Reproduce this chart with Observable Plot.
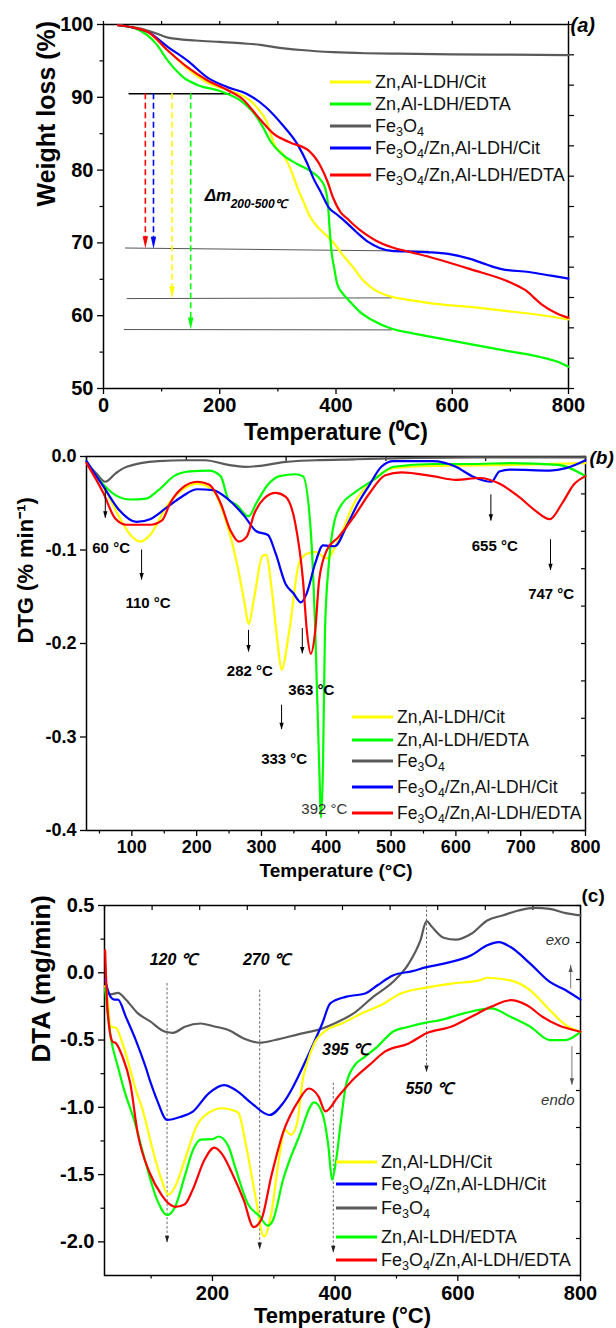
<!DOCTYPE html>
<html><head><meta charset="utf-8">
<script src="https://cdn.jsdelivr.net/npm/d3@7"></script>
<script src="https://cdn.jsdelivr.net/npm/@observablehq/plot@0.6"></script>
<style>
body{margin:0;background:#fff;}
#wrap{position:relative;width:616px;height:1328px;font-family:"Liberation Sans",Arial,sans-serif;overflow:hidden;}
.panel{position:absolute;left:0;}
.panel svg{overflow:visible;}
.row{position:absolute;white-space:nowrap;display:flex;align-items:center;transform:translateY(-50%);color:#111;}
.sw{display:inline-block;width:41px;height:3px;margin-right:4px;}
sub{font-size:0.7em;vertical-align:-0.35em;line-height:0;}
</style></head><body>
<div id="wrap"></div>
<script>
// ---------------- (a) TGA : [T (°C), weight (%)] ----------------
const tgaFe = [[25,99.9],[60,99.5],[90,98.8],[111,98.2],[159,97.8],[200,97.6],[240,97.4],[270,97.2],[294,96.9],[340,96.5],[395,96.2],[450,96.05],[496,96.0],[600,95.9],[700,95.85],[800,95.8]];
const tgaCit = [[25,99.9],[50,99.6],[78,98.9],[111,96.4],[145,93.9],[179,92.0],[213,91.0],[240,90.2],[253,89.5],[268,88.2],[280,86.8],[294,83.5],[310,82.0],[321,80.3],[334,77.5],[345,75.5],[354,73.8],[365,72.5],[380,71.3],[395,70.1],[410,68.5],[429,66.7],[445,65.0],[462,63.8],[480,63.0],[496,62.6],[530,62.1],[564,61.7],[631,61.2],[699,60.6],[750,60.1],[800,59.5]];
const tgaEdta = [[25,99.9],[57,99.4],[91,97.3],[111,95.0],[138,92.7],[165,91.6],[199,90.9],[240,89.3],[260,87.7],[275,85.8],[287,84.0],[307,82.2],[334,80.8],[361,79.6],[375,78.5],[381,77.6],[386,75.5],[389,72.0],[392,69.0],[397,66.5],[402,64.4],[412,63.0],[422,62.1],[440,60.6],[462,59.4],[496,58.2],[530,57.6],[564,57.1],[631,56.1],[699,55.1],[753,54.3],[780,53.7],[800,53.0]];
const tgaFeCit = [[25,99.9],[50,99.6],[78,98.9],[111,96.9],[145,95.0],[179,92.7],[213,91.4],[246,90.5],[280,88.6],[307,86.3],[334,83.5],[350,81.0],[361,78.9],[375,76.8],[388,74.8],[400,74.0],[415,73.0],[435,71.5],[456,70.1],[475,69.3],[496,68.9],[530,68.8],[564,68.7],[600,68.4],[631,67.8],[660,67.0],[685,66.4],[732,66.0],[770,65.5],[800,65.1]];
const tgaFeEdta = [[25,99.9],[50,99.6],[78,98.9],[111,96.4],[145,94.1],[179,92.3],[213,91.0],[240,89.7],[267,87.2],[294,84.9],[321,83.8],[354,82.6],[375,80.3],[385,78.5],[395,76.2],[408,74.2],[420,73.3],[429,72.6],[449,71.3],[469,70.3],[496,69.4],[530,68.7],[564,68.0],[631,66.4],[699,64.6],[726,63.5],[753,61.6],[780,60.3],[800,59.7]];
const tgaStart = [{T1:44, T2:219, w:90.5}];
const tgaLevels = [{T1:37,w1:69.3,T2:560,w2:68.85},{T1:40,w1:62.35,T2:496,w2:62.45},{T1:35,w1:58.1,T2:496,w2:58.05}];
const tgaDrops = [{key:"feEdta",T:72,w1:90.5,w2:69.25},{key:"feCit",T:86,w1:90.5,w2:69.2},{key:"cit",T:118,w1:90.5,w2:62.4},{key:"edta",T:150,w1:90.5,w2:58.1}];
const tgaDeltaLabel = [{T:174, w:75.8}];

// ---------------- (b) DTG : [T (°C), % min-1] ----------------
const dtgFe = [[30,-0.007],[45,-0.018],[59,-0.027],[75,-0.018],[92,-0.011],[141,-0.005],[183,-0.004],[213,-0.004],[249,-0.009],[274,-0.011],[298,-0.010],[334,-0.006],[383,-0.004],[443,-0.003],[504,-0.002],[625,-0.001],[800,-0.001]];
const dtgCit = [[30,-0.007],[56,-0.032],[80,-0.064],[98,-0.084],[113,-0.091],[128,-0.084],[153,-0.054],[177,-0.036],[201,-0.029],[225,-0.036],[243,-0.064],[262,-0.114],[274,-0.157],[280,-0.179],[289,-0.150],[301,-0.107],[307,-0.105],[316,-0.143],[325,-0.200],[331,-0.228],[343,-0.186],[358,-0.114],[370,-0.104],[383,-0.102],[401,-0.109],[419,-0.089],[443,-0.050],[473,-0.025],[504,-0.0125],[564,-0.010],[685,-0.009],[800,-0.007]];
const dtgEdta = [[30,-0.005],[50,-0.025],[74,-0.041],[98,-0.046],[122,-0.045],[141,-0.036],[165,-0.021],[189,-0.016],[219,-0.015],[237,-0.021],[249,-0.046],[262,-0.052],[280,-0.064],[292,-0.050],[310,-0.030],[328,-0.021],[352,-0.019],[364,-0.021],[376,-0.079],[383,-0.186],[389,-0.329],[392,-0.386],[395,-0.329],[398,-0.186],[404,-0.114],[413,-0.068],[425,-0.050],[443,-0.039],[473,-0.025],[504,-0.011],[564,-0.008],[625,-0.008],[685,-0.007],[758,-0.009],[800,-0.021]];
const dtgFeCit = [[30,-0.005],[56,-0.032],[80,-0.057],[107,-0.070],[128,-0.067],[153,-0.055],[177,-0.043],[201,-0.035],[225,-0.036],[249,-0.046],[274,-0.064],[292,-0.080],[310,-0.084],[322,-0.104],[337,-0.136],[349,-0.146],[361,-0.156],[370,-0.146],[383,-0.114],[395,-0.095],[413,-0.096],[431,-0.075],[449,-0.050],[467,-0.030],[485,-0.011],[504,-0.005],[564,-0.005],[600,-0.011],[625,-0.021],[655,-0.027],[667,-0.016],[685,-0.014],[745,-0.015],[770,-0.0125],[800,-0.004]];
const dtgFeEdta = [[30,-0.007],[56,-0.039],[74,-0.066],[92,-0.073],[128,-0.073],[147,-0.068],[159,-0.050],[177,-0.034],[201,-0.027],[219,-0.030],[237,-0.050],[252,-0.079],[265,-0.091],[277,-0.086],[289,-0.061],[304,-0.045],[322,-0.039],[337,-0.043],[352,-0.071],[364,-0.132],[370,-0.186],[376,-0.211],[383,-0.186],[389,-0.132],[401,-0.100],[419,-0.086],[443,-0.064],[467,-0.039],[491,-0.020],[516,-0.017],[564,-0.021],[600,-0.025],[637,-0.023],[667,-0.029],[697,-0.043],[721,-0.057],[745,-0.067],[764,-0.050],[782,-0.030],[800,-0.021]];
const dtgArrows = [{T:59,v1:-0.034,v2:-0.066},{T:115,v1:-0.100,v2:-0.132},{T:280,v1:-0.186,v2:-0.209},{T:363,v1:-0.184,v2:-0.211},{T:331,v1:-0.266,v2:-0.292},{T:654,v1:-0.041,v2:-0.069},{T:746,v1:-0.089,v2:-0.122}];
const dtgPeakLabels = [{T:68,v:-0.098,t:"60 °C"},{T:125,v:-0.157,t:"110 °C"},{T:282,v:-0.230,t:"282 °C"},{T:377,v:-0.250,t:"363 °C"},{T:335,v:-0.324,t:"333 °C"},{T:660,v:-0.096,t:"655 °C"},{T:747,v:-0.147,t:"747 °C"}];
const dtgMinLabel = [{T:397,v:-0.3775,t:"392 °C"}];

// ---------------- (c) DTA : [T (°C), mg/min] ----------------
const dtaFe = [[25,-0.13],[34,-0.16],[46,-0.15],[59,-0.20],[78,-0.30],[98,-0.36],[123,-0.438],[136,-0.446],[155,-0.401],[181,-0.377],[200,-0.396],[226,-0.426],[251,-0.488],[277,-0.52],[302,-0.50],[341,-0.456],[379,-0.414],[405,-0.364],[430,-0.302],[462,-0.179],[494,-0.069],[520,0.068],[539,0.241],[549,0.384],[558,0.34],[577,0.26],[597,0.246],[622,0.29],[648,0.389],[673,0.426],[699,0.463],[725,0.483],[750,0.475],[776,0.443],[800,0.426]];
const dtaCit = [[25,-0.1],[27,-0.13],[34,-0.40],[43,-0.41],[53,-0.52],[66,-0.72],[75,-0.87],[85,-1.0],[104,-1.34],[117,-1.54],[128,-1.65],[139,-1.59],[155,-1.39],[174,-1.14],[194,-1.04],[216,-1.007],[232,-1.02],[242,-1.04],[255,-1.29],[270,-1.66],[284,-1.96],[296,-1.785],[309,-1.365],[318,-1.168],[328,-1.205],[338,-1.119],[347,-0.80],[354,-0.673],[366,-0.525],[386,-0.426],[411,-0.377],[443,-0.302],[475,-0.24],[507,-0.154],[549,-0.11],[590,-0.08],[635,-0.057],[648,-0.037],[686,-0.057],[718,-0.13],[750,-0.278],[776,-0.389],[800,-0.44]];
const dtaEdta = [[25,-0.12],[34,-0.475],[46,-0.70],[56,-0.87],[72,-1.09],[91,-1.41],[110,-1.69],[126,-1.80],[139,-1.74],[155,-1.51],[168,-1.32],[181,-1.24],[200,-1.237],[210,-1.217],[226,-1.29],[238,-1.46],[258,-1.72],[277,-1.81],[290,-1.88],[299,-1.835],[315,-1.54],[341,-1.22],[366,-0.963],[379,-1.044],[389,-1.29],[395,-1.54],[401,-1.41],[411,-1.044],[417,-0.85],[430,-0.698],[449,-0.623],[469,-0.549],[494,-0.438],[520,-0.401],[546,-0.372],[571,-0.352],[610,-0.302],[654,-0.265],[686,-0.327],[718,-0.40],[750,-0.50],[776,-0.50],[800,-0.44]];
const dtaFeCit = [[25,-0.05],[26,-0.07],[34,-0.18],[40,-0.20],[46,-0.20],[59,-0.33],[75,-0.50],[91,-0.70],[98,-0.80],[110,-0.95],[126,-1.094],[149,-1.069],[168,-1.032],[194,-0.896],[219,-0.835],[238,-0.872],[264,-0.97],[293,-1.057],[315,-0.97],[330,-0.86],[341,-0.76],[360,-0.574],[379,-0.377],[392,-0.228],[417,-0.179],[449,-0.154],[469,-0.093],[494,-0.02],[526,0.012],[549,0.042],[577,0.068],[622,0.13],[648,0.204],[667,0.228],[686,0.191],[718,0.068],[750,-0.068],[776,-0.13],[800,-0.2]];
const dtaFeEdta = [[25,0.167],[29,-0.28],[37,-0.51],[43,-0.525],[53,-0.62],[66,-0.82],[78,-1.19],[98,-1.49],[117,-1.65],[130,-1.72],[139,-1.74],[155,-1.72],[168,-1.61],[187,-1.39],[203,-1.30],[216,-1.35],[232,-1.49],[251,-1.69],[267,-1.89],[280,-1.83],[296,-1.51],[315,-1.19],[341,-0.946],[357,-0.86],[373,-0.92],[384,-1.03],[405,-0.92],[430,-0.79],[456,-0.685],[481,-0.586],[520,-0.525],[549,-0.45],[590,-0.40],[622,-0.327],[654,-0.253],[686,-0.204],[712,-0.24],[738,-0.327],[763,-0.389],[800,-0.438]];
const dtaMarkers = [{T:126,v1:-0.08,v2:-2.005},{T:277,v1:-0.13,v2:-2.055},{T:397,v1:-0.82,v2:-2.08},{T:549,v1:0.5,v2:-0.74}];
const dtaMarkerLabels = [{T:136,v:0.098,t:"120 ℃"},{T:288,v:0.098,t:"270 ℃"},{T:417,v:-0.574,t:"395 ℃"},{T:553,v:-0.86,t:"550 ℃"}];
const dtaExoEndo = [{T:784,v1:-0.12,v2:0.056},{T:786,v1:-0.55,v2:-0.835}];
const dtaExoEndoLabels = [{T:763,v:0.24,t:"exo"},{T:763,v:-0.95,t:"endo"}];

// ---------------- styles ----------------
const colors = {cit:"#ffff00", edta:"#00ff00", fe:"#5a5a5a", feCit:"#0000ff", feEdta:"#ff0000"};
const legendHTML = {cit:"Zn,Al-LDH/Cit", edta:"Zn,Al-LDH/EDTA", fe:"Fe<sub>3</sub>O<sub>4</sub>",
  feCit:"Fe<sub>3</sub>O<sub>4</sub>/Zn,Al-LDH/Cit", feEdta:"Fe<sub>3</sub>O<sub>4</sub>/Zn,Al-LDH/EDTA"};
const FONT = "Liberation Sans, Arial, Helvetica, sans-serif";

function head(dir, wr, hr){ // arrow-head symbol, tip at the anchor
  return {draw(ctx, size){ const r=Math.sqrt(size/Math.PI); const h=r*hr*dir, w=r*wr;
    ctx.moveTo(0,0); ctx.lineTo(-w,-h); ctx.lineTo(w,-h); ctx.closePath(); }};
}
const headDown = head(1,0.45,2.0), headDownS = head(1,0.6,1.9), headUpS = head(-1,0.6,1.9);

function curves(sets, order){
  return order.map(k => Plot.line(sets[k], {x:d=>d[0], y:d=>d[1], stroke:colors[k], strokeWidth:2.2, curve:"monotone-x"}));
}
const blank = () => "";
const fmt1 = d => (Math.abs(d) < 1e-9 ? 0 : d).toFixed(1);

const wrap = document.getElementById("wrap");
function place(el, top){ const d=document.createElement("div"); d.className="panel"; d.style.top=top+"px"; d.appendChild(el); wrap.appendChild(d); }
function legend(rows, left, fontSize){
  rows.forEach(([k,y]) => {
    const r=document.createElement("div"); r.className="row"; r.style.left=left+"px"; r.style.top=y+"px"; r.style.fontSize=fontSize+"px";
    r.innerHTML=`<span class="sw" style="background:${colors[k]}"></span><span>${legendHTML[k]}</span>`;
    wrap.appendChild(r);
  });
}

// ---------------- Panel (a) ----------------
const pa = Plot.plot({
  width:616, height:445, marginTop:24, marginBottom:57, marginLeft:103, marginRight:48,
  x:{domain:[0,800]}, y:{domain:[50,100]},
  style:{fontFamily:FONT, background:"transparent", color:"#000"},
  marks:[
    Plot.axisX({ticks:[0,200,400,600,800], tickSize:6, strokeWidth:1.3, fontSize:20, fontWeight:"bold", tickPadding:3, label:null}),
    Plot.axisX({ticks:[100,300,500,700], tickSize:3.5, strokeWidth:1.2, tickFormat:blank, label:null}),
    Plot.axisX({anchor:"top", ticks:d3.range(0,801,100), tickSize:4, strokeWidth:1.2, tickFormat:blank, label:null}),
    Plot.axisY({ticks:[50,60,70,80,90,100], tickSize:6, strokeWidth:1.3, fontSize:20, fontWeight:"bold", tickPadding:4, label:null}),
    Plot.axisY({ticks:[55,65,75,85,95], tickSize:3.5, strokeWidth:1.2, tickFormat:blank, label:null}),
    Plot.axisY({anchor:"right", ticks:d3.range(13).map(i=>50+i*50/12), tickSize:5, strokeWidth:1.2, tickFormat:blank, label:null}),
    Plot.frame({stroke:"#000", strokeWidth:1.5}),
    Plot.link(tgaLevels, {x1:"T1", y1:"w1", x2:"T2", y2:"w2", stroke:"#555", strokeWidth:1}),
    Plot.ruleY(tgaStart, {y:"w", x1:"T1", x2:"T2", stroke:"#000", strokeWidth:1.5}),
    ...curves({fe:tgaFe, cit:tgaCit, edta:tgaEdta, feCit:tgaFeCit, feEdta:tgaFeEdta}, ["fe","cit","edta","feCit","feEdta"]),
    Plot.ruleX(tgaDrops, {x:"T", y1:"w1", y2:d=>d.w2+1.2, stroke:d=>colors[d.key], strokeWidth:1.6, strokeDasharray:"6,3.5"}),
    Plot.dot(tgaDrops, {x:"T", y:"w2", symbol:headDown, r:6, fill:d=>colors[d.key], stroke:"none"}),
    Plot.text(tgaDeltaLabel, {x:"T", y:"w", text:()=>"Δm", textAnchor:"start", lineAnchor:"bottom", fontSize:17, fontWeight:"bold", fontStyle:"italic"}),
    Plot.text(tgaDeltaLabel, {x:"T", y:"w", text:()=>"200-500℃", textAnchor:"start", lineAnchor:"bottom", dx:26, dy:7, fontSize:12, fontWeight:"bold", fontStyle:"italic"}),
    Plot.text(["Weight loss (%)"], {frameAnchor:"left", rotate:-90, dx:-57, fontSize:25, fontWeight:"bold", lineAnchor:"middle"}),
    Plot.text(["Temperature (⁰C)"], {frameAnchor:"bottom", dy:44, fontSize:23, fontWeight:"bold", lineAnchor:"middle"}),
    Plot.text(["(a)"], {frameAnchor:"top-right", textAnchor:"start", dx:2, dy:1, fontSize:20, fontWeight:"bold", fontStyle:"italic", lineAnchor:"middle"})
  ]
});
place(pa, 0);
legend([["cit",82],["edta",104],["fe",126],["feCit",148],["feEdta",175]], 330, 18);

// ---------------- Panel (b) ----------------
const pb = Plot.plot({
  width:616, height:435, marginTop:11, marginBottom:50, marginLeft:86, marginRight:31,
  x:{domain:[30,800]}, y:{domain:[-0.4,0]},
  style:{fontFamily:FONT, background:"transparent", color:"#000"},
  marks:[
    Plot.axisX({ticks:d3.range(100,801,100), tickSize:6, strokeWidth:1.3, fontSize:18, fontWeight:"bold", tickPadding:4, label:null}),
    Plot.axisX({ticks:d3.range(50,801,100), tickSize:3.5, strokeWidth:1.2, tickFormat:blank, label:null}),
    Plot.axisX({anchor:"top", ticks:d3.range(6).map(i=>30+i*154), tickSize:-4, strokeWidth:1.2, tickFormat:blank, label:null}),
    Plot.axisY({ticks:[0,-0.1,-0.2,-0.3,-0.4], tickFormat:fmt1, tickSize:6, strokeWidth:1.3, fontSize:18, fontWeight:"bold", tickPadding:4, label:null}),
    Plot.axisY({anchor:"right", ticks:d3.range(11).map(i=>-0.4+i*0.04), tickSize:-5, strokeWidth:1.2, tickFormat:blank, label:null}),
    Plot.frame({stroke:"#000", strokeWidth:1.5}),
    ...curves({fe:dtgFe, cit:dtgCit, edta:dtgEdta, feCit:dtgFeCit, feEdta:dtgFeEdta}, ["fe","cit","edta","feCit","feEdta"]),
    Plot.ruleX(dtgArrows, {x:"T", y1:"v1", y2:"v2", stroke:"#000", strokeWidth:1}),
    Plot.dot(dtgArrows, {x:"T", y:"v2", symbol:headDownS, r:3.6, fill:"#000", stroke:"none"}),
    Plot.text(dtgPeakLabels, {x:"T", y:"v", text:"t", fontSize:15, fontWeight:"bold", lineAnchor:"middle"}),
    Plot.text(dtgMinLabel, {x:"T", y:"v", text:"t", fontSize:15, fill:"#333", lineAnchor:"middle"}),
    Plot.text(["DTG (% min⁻¹)"], {frameAnchor:"left", rotate:-90, dx:-61, fontSize:22, fontWeight:"bold", lineAnchor:"middle"}),
    Plot.text(["Temperature (°C)"], {frameAnchor:"bottom", dy:40, fontSize:19, fontWeight:"bold", lineAnchor:"middle"}),
    Plot.text(["(b)"], {frameAnchor:"top-right", textAnchor:"start", dx:4, dy:1, fontSize:19, fontWeight:"bold", fontStyle:"italic", lineAnchor:"middle"})
  ]
});
place(pb, 445);
legend([["cit",717],["edta",740],["fe",761],["feCit",787],["feEdta",813]], 352, 17.5);

// ---------------- Panel (c) ----------------
const pc = Plot.plot({
  width:616, height:448, marginTop:25, marginBottom:53, marginLeft:104, marginRight:36,
  x:{domain:[24,800]}, y:{domain:[-2.25,0.5]},
  style:{fontFamily:FONT, background:"transparent", color:"#000"},
  marks:[
    Plot.axisX({ticks:[200,400,600,800], tickSize:6, strokeWidth:1.3, fontSize:20, fontWeight:"bold", tickPadding:4, label:null}),
    Plot.axisX({ticks:[100,300,500,700], tickSize:3.5, strokeWidth:1.2, tickFormat:blank, label:null}),
    Plot.axisX({anchor:"top", ticks:d3.range(11).map(i=>24+i*77.6), tickSize:-4, strokeWidth:1.2, tickFormat:blank, label:null}),
    Plot.axisY({ticks:[0.5,0,-0.5,-1,-1.5,-2], tickFormat:fmt1, tickSize:6, strokeWidth:1.3, fontSize:20, fontWeight:"bold", tickPadding:4, label:null}),
    Plot.axisY({ticks:[0.25,-0.25,-0.75,-1.25,-1.75], tickSize:3.5, strokeWidth:1.2, tickFormat:blank, label:null}),
    Plot.axisY({anchor:"right", ticks:d3.range(11).map(i=>-2.25+i*0.275), tickSize:-5, strokeWidth:1.2, tickFormat:blank, label:null}),
    Plot.frame({stroke:"#000", strokeWidth:1.5}),
    Plot.ruleX(dtaMarkers, {x:"T", y1:"v1", y2:"v2", stroke:"#444", strokeWidth:0.8, strokeDasharray:"2.5,2"}),
    ...curves({fe:dtaFe, cit:dtaCit, edta:dtaEdta, feCit:dtaFeCit, feEdta:dtaFeEdta}, ["fe","feCit","cit","edta","feEdta"]),
    Plot.dot(dtaMarkers, {x:"T", y:"v2", symbol:headDownS, r:3.6, fill:"#222", stroke:"none"}),
    Plot.text(dtaMarkerLabels, {x:"T", y:"v", text:"t", fontSize:16, fontWeight:"bold", fontStyle:"italic", lineAnchor:"middle"}),
    Plot.ruleX(dtaExoEndo, {x:"T", y1:"v1", y2:"v2", stroke:"#777", strokeWidth:1}),
    Plot.dot(dtaExoEndo.slice(0,1), {x:"T", y:"v2", symbol:headUpS, r:3.6, fill:"#555", stroke:"none"}),
    Plot.dot(dtaExoEndo.slice(1), {x:"T", y:"v2", symbol:headDownS, r:3.6, fill:"#555", stroke:"none"}),
    Plot.text(dtaExoEndoLabels, {x:"T", y:"v", text:"t", fontSize:15, fontStyle:"italic", fill:"#333", lineAnchor:"middle"}),
    Plot.text(["DTA (mg/min)"], {frameAnchor:"left", rotate:-90, dx:-63, dy:-28, fontSize:26, fontWeight:"bold", lineAnchor:"middle"}),
    Plot.text(["Temperature (°C)"], {frameAnchor:"bottom", dy:40, fontSize:22, fontWeight:"bold", lineAnchor:"middle"}),
    Plot.text(["(c)"], {frameAnchor:"top-right", textAnchor:"start", dx:1, dy:-10, fontSize:19, fontWeight:"bold", lineAnchor:"middle"})
  ]
});
place(pc, 880);
legend([["cit",1162],["feCit",1184],["fe",1208],["edta",1237],["feEdta",1260]], 336, 18);
</script></body></html>
